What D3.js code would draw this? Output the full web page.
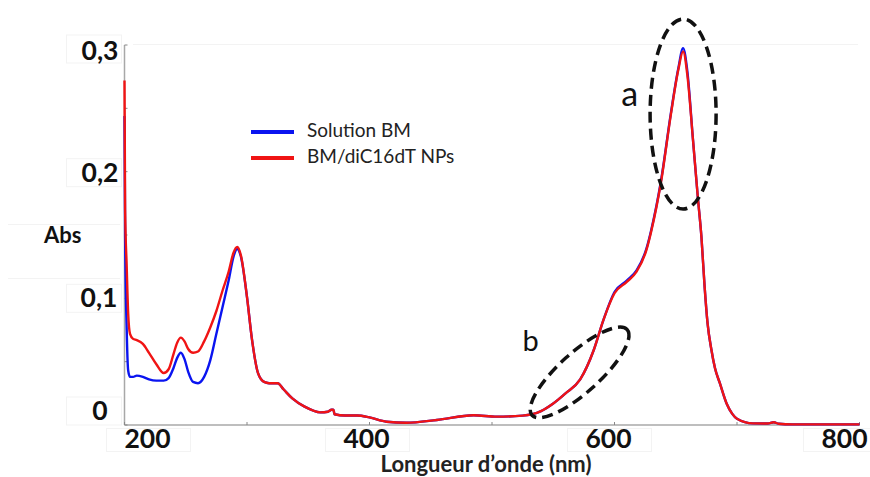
<!DOCTYPE html>
<html>
<head>
<meta charset="utf-8">
<script src="https://cdn.jsdelivr.net/npm/d3@7"></script>
<style>
  html, body { margin: 0; padding: 0; background: #fff; }
  svg { display: block; }
</style>
</head>
<body>
<svg id="chart" width="870" height="477"></svg>
<script>
// ---------- DATA ----------
const wavelengths = [200, 200.5, 201.8, 203, 204.5, 207, 210, 215, 220, 226, 232, 236, 240, 243, 246, 249, 252, 256, 260, 265, 270, 275, 280, 285, 289, 292, 295, 300, 304, 309, 314, 318, 325, 330, 337, 347, 360, 366, 369, 370.5, 371.5, 380, 390, 400, 414, 430, 455, 485, 504, 525, 540, 550, 560, 572, 583, 591, 600, 610, 618, 626, 630, 638, 646, 652, 656, 659.5, 664, 668, 671, 673.5, 676, 679, 682, 686, 691.5, 696, 700, 713, 725, 730, 734, 745, 800];
const solutionBM = [0.244, 0.150, 0.075, 0.043, 0.038, 0.038, 0.039, 0.038, 0.036, 0.035, 0.035, 0.037, 0.045, 0.053, 0.057, 0.052, 0.042, 0.034, 0.033, 0.038, 0.051, 0.072, 0.093, 0.114, 0.133, 0.139, 0.133, 0.101, 0.068, 0.041, 0.034, 0.033, 0.033, 0.028, 0.021, 0.0145, 0.010, 0.0105, 0.012, 0.012, 0.0085, 0.0075, 0.0075, 0.006, 0.0026, 0.0018, 0.004, 0.0077, 0.0066, 0.0074, 0.011, 0.017, 0.025, 0.036, 0.059, 0.083, 0.105, 0.114, 0.122, 0.139, 0.154, 0.193, 0.246, 0.281, 0.2975, 0.279, 0.226, 0.180, 0.148, 0.110, 0.080, 0.060, 0.045, 0.033, 0.017, 0.009, 0.005, 0.0013, 0.0012, 0.0022, 0.001, 0.0005, 0.0005];
const bmNPs = [0.272, 0.170, 0.125, 0.088, 0.072, 0.068, 0.067, 0.064, 0.057, 0.048, 0.041, 0.044, 0.056, 0.065, 0.069, 0.066, 0.060, 0.057, 0.058, 0.066, 0.077, 0.090, 0.106, 0.121, 0.136, 0.1405, 0.134, 0.101, 0.068, 0.041, 0.034, 0.033, 0.033, 0.028, 0.021, 0.0145, 0.010, 0.0105, 0.012, 0.012, 0.0085, 0.0075, 0.0075, 0.006, 0.0026, 0.0018, 0.004, 0.0077, 0.0066, 0.0074, 0.011, 0.017, 0.025, 0.036, 0.059, 0.083, 0.104, 0.113, 0.121, 0.138, 0.153, 0.192, 0.245, 0.280, 0.295, 0.276, 0.226, 0.180, 0.148, 0.110, 0.080, 0.060, 0.045, 0.033, 0.017, 0.009, 0.005, 0.0013, 0.0012, 0.0022, 0.001, 0.0005, 0.0005];
const seriesNames = ["Solution BM", "BM/diC16dT NPs"];
const seriesColors = ["#0a14f0", "#f01414"];
const xTickValues = [200, 400, 600, 800];
const xTickLabels = ["200", "400", "600", "800"];
const xMinorTicks = [300, 500, 700];
const yTickValues = [0, 0.1, 0.2, 0.3];
const yTickLabels = ["0", "0,1", "0,2", "0,3"];
const yMinorTicks = [0.05, 0.15, 0.25];
const xTitle = "Longueur d’onde (nm)";
const yTitle = "Abs";

// ---------- SCALES ----------
const svg = d3.select("#chart");
const x = d3.scaleLinear().domain([200, 800]).range([124.5, 859.5]);
const y = d3.scaleLinear().domain([0, 0.3]).range([425, 45]);

// faint artifact boxes around labels (from the pasted source image)
const faint = "#f3f3f3";
const boxes = svg.append("g").attr("fill", "none").attr("stroke", faint).attr("stroke-width", 1);
yTickValues.forEach((v, i) => {
  const cy = y(v) + [ -15, -1, 0, 3 ][i];
  boxes.append("rect").attr("x", 66.5).attr("y", cy - 13).attr("width", 55).attr("height", 28);
});
xTickValues.forEach((v, i) => {
  const cx = x(v) + [23, -3, -6, -15][i];
  boxes.append("rect").attr("x", cx - 41).attr("y", 428.5).attr("width", 84).attr("height", 23);
});
boxes.append("line").attr("x1", 133).attr("x2", 858).attr("y1", y(0.3) - 0.5).attr("y2", y(0.3) - 0.5);
boxes.append("line").attr("x1", 8).attr("x2", 120).attr("y1", 224.5).attr("y2", 224.5);
boxes.append("line").attr("x1", 8).attr("x2", 120).attr("y1", 278.5).attr("y2", 278.5);

// ---------- AXES ----------
const axisColor = "#a8a8a8";
svg.append("line").attr("x1", x(200)).attr("x2", x(800)).attr("y1", y(0)).attr("y2", y(0))
  .attr("stroke", axisColor).attr("stroke-width", 1.5);
svg.append("line").attr("x1", x(200)).attr("x2", x(200)).attr("y1", y(0)).attr("y2", y(0.3))
  .attr("stroke", axisColor).attr("stroke-width", 1.5);

svg.append("g").selectAll("line").data(xTickValues.concat(xMinorTicks)).join("line")
  .attr("x1", d => x(d)).attr("x2", d => x(d)).attr("y1", y(0)).attr("y2", y(0) - 3)
  .attr("stroke", "#888").attr("stroke-width", 1);
svg.append("g").selectAll("line").data(yTickValues.concat(yMinorTicks)).join("line")
  .attr("x1", x(200)).attr("x2", x(200) + 3).attr("y1", d => y(d)).attr("y2", d => y(d))
  .attr("stroke", "#888").attr("stroke-width", 1);

const tickFont = "Lato, 'Open Sans', sans-serif";
// y labels
const yDx = [-17, -7, -6, -6];
const yDy = [-5, 8.4, 10, 15];
svg.append("g").selectAll("text").data(yTickValues).join("text")
  .attr("x", (d, i) => x(200) + yDx[i])
  .attr("y", (d, i) => y(d) + yDy[i])
  .attr("text-anchor", "end")
  .attr("font-family", tickFont).attr("font-weight", 700).attr("font-size", 26.5)
  .attr("fill", "#111")
  .text((d, i) => yTickLabels[i]);
// x labels
const xDx = [23, -3, -6, -15];
svg.append("g").selectAll("text").data(xTickValues).join("text")
  .attr("x", (d, i) => x(d) + xDx[i])
  .attr("y", 448)
  .attr("text-anchor", "middle")
  .attr("font-family", tickFont).attr("font-weight", 700).attr("font-size", 26.5)
  .attr("fill", "#111")
  .text((d, i) => xTickLabels[i]);

svg.append("text").attr("x", 486).attr("y", 472).attr("text-anchor", "middle")
  .attr("font-family", tickFont).attr("font-weight", 700).attr("font-size", 22)
  .attr("fill", "#222").text(xTitle);
svg.append("text").attr("x", 44).attr("y", 243)
  .attr("font-family", tickFont).attr("font-weight", 700).attr("font-size", 22)
  .attr("fill", "#111").text(yTitle);

// ---------- CURVES ----------
const line = d3.line().x(d => x(d[0])).y(d => y(d[1])).curve(d3.curveMonotoneX);
[solutionBM, bmNPs].forEach((vals, i) => {
  svg.append("path")
    .datum(wavelengths.map((w, j) => [w, vals[j]]))
    .attr("d", line)
    .attr("fill", "none")
    .attr("stroke", seriesColors[i])
    .attr("stroke-width", 2.4)
    .attr("stroke-linejoin", "round");
});

// ---------- LEGEND ----------
const legend = svg.append("g");
seriesNames.forEach((name, i) => {
  const ly = 132 + i * 26;
  legend.append("line").attr("x1", 251).attr("x2", 294).attr("y1", ly).attr("y2", ly)
    .attr("stroke", seriesColors[i]).attr("stroke-width", 4);
  legend.append("text").attr("x", 307).attr("y", ly + 5)
    .attr("font-family", tickFont).attr("font-size", 19).attr("fill", "#222").text(name);
});

// ---------- ANNOTATIONS ----------
const ann = svg.append("g");
ann.append("ellipse")
  .attr("cx", x(656)).attr("cy", y(0.2455)).attr("rx", 33).attr("ry", 95)
  .attr("fill", "none").attr("stroke", "#111").attr("stroke-width", 3.5)
  .attr("stroke-dasharray", "11,6");
ann.append("ellipse")
  .attr("transform", `translate(${x(571.5)},${y(0.0415)}) rotate(-42)`)
  .attr("rx", 64).attr("ry", 20)
  .attr("fill", "none").attr("stroke", "#111").attr("stroke-width", 3.5)
  .attr("stroke-dasharray", "11,6");
ann.append("text").attr("x", x(612.5)).attr("y", 106).attr("text-anchor", "middle")
  .attr("font-family", tickFont).attr("font-size", 34).attr("fill", "#111").text("a");
ann.append("text").attr("x", x(531.5)).attr("y", 351).attr("text-anchor", "middle")
  .attr("font-family", tickFont).attr("font-size", 29).attr("fill", "#111").text("b");
</script>
</body>
</html>
